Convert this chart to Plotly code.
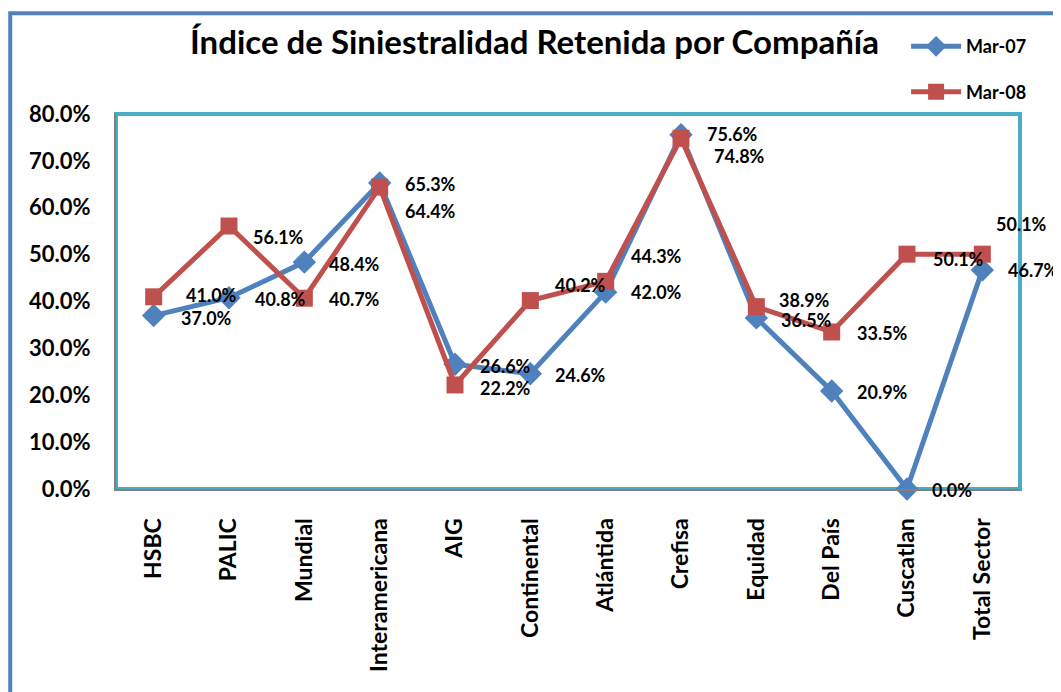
import plotly.graph_objects as go

companias = ['HSBC', 'PALIC', 'Mundial', 'Interamericana', 'AIG', 'Continental',
             'Atlántida', 'Crefisa', 'Equidad', 'Del País', 'Cuscatlan', 'Total Sector']
mar07 = [0.370, 0.408, 0.484, 0.653, 0.266, 0.246, 0.420, 0.756, 0.365, 0.209, 0.000, 0.467]
mar08 = [0.410, 0.561, 0.407, 0.644, 0.222, 0.402, 0.443, 0.748, 0.389, 0.335, 0.501, 0.501]

# desplazamiento de las etiquetas (px) como en el original
dx07 = [25, 24, 23, 23, 23, 23, 23, 24, 23, 23, 23, 24]
dy07 = [-2, -1, -2, -1, -2, -1, 0, 1, -2, -1, -1, 0]
dx08 = [30, 22, 23, 23, 23, 23, 23, 31, 21, 23, 24, 12]
dy08 = [2, -11, -1, -24, -3, 16, 25, -18, 7, -1, -5, 30]

FONT = 'Lato'
azul = '#4F81BD'
rojo = '#C0504D'
turquesa = '#4BACC6'

fig = go.Figure()
fig.add_trace(go.Scatter(x=companias, y=mar07, name='Mar-07', mode='lines+markers',
                         line=dict(color=azul, width=5),
                         marker=dict(symbol='diamond', size=18, color=azul),
                         cliponaxis=False, legendgroup='a'))
fig.add_trace(go.Scatter(x=companias, y=mar08, name='Mar-08', mode='lines+markers',
                         line=dict(color=rojo, width=5),
                         marker=dict(symbol='square', size=17, color=rojo),
                         cliponaxis=False, legendgroup='b'))

for serie, dxs, dys in [(mar07, dx07, dy07), (mar08, dx08, dy08)]:
    for c, v, dx, dy in zip(companias, serie, dxs, dys):
        fig.add_annotation(x=c, y=v, text='%.1f%%' % (v * 100), showarrow=False,
                           xanchor='left', yanchor='middle', xshift=dx, yshift=dy,
                           font=dict(family=FONT, size=18, color='black', weight='bold'))

# marco del área de trazado
fig.add_shape(type='rect', xref='paper', yref='paper', x0=0, x1=1, y0=0, y1=1,
              line=dict(color=turquesa, width=4), layer='below')
# borde exterior azul (izquierda y arriba)
fig.add_shape(type='path', xref='paper', yref='paper',
              path='M -0.117,-0.6 L -0.117,1.269 L 1.1,1.269',
              line=dict(color=azul, width=4))

fig.update_layout(
    width=1053, height=684,
    margin=dict(l=108, r=41, t=106, b=203),
    plot_bgcolor='white', paper_bgcolor='white',
    font=dict(family=FONT, color='black', weight='bold'),
    title=dict(text='Índice de Siniestralidad Retenida por Compañía',
               x=0.5, xanchor='center', y=1 - 34 / 684, yanchor='middle',
               font=dict(family=FONT, size=33, color='black', weight='bold')),
    showlegend=True,
    legend=dict(x=0.874, xanchor='left', y=1.229, yanchor='top',
                font=dict(family=FONT, size=18, color='black', weight='bold'),
                tracegroupgap=19, itemwidth=50, bgcolor='rgba(0,0,0,0)'),
)
fig.update_xaxes(range=[-0.5, 11.5], showgrid=False, showline=True, linecolor='#808080',
                 linewidth=2, tickangle=-90, ticks='', ticklabelstandoff=18,
                 tickfont=dict(family=FONT, size=23, color='black', weight='bold'))
fig.update_yaxes(range=[0, 0.8], dtick=0.1, tickformat='.1%', showgrid=False, showline=True,
                 linecolor='#808080', linewidth=2, ticks='', ticklabelstandoff=19,
                 zeroline=False,
                 tickfont=dict(family=FONT, size=22, color='black', weight='bold'))

fig.write_html('out.html')
